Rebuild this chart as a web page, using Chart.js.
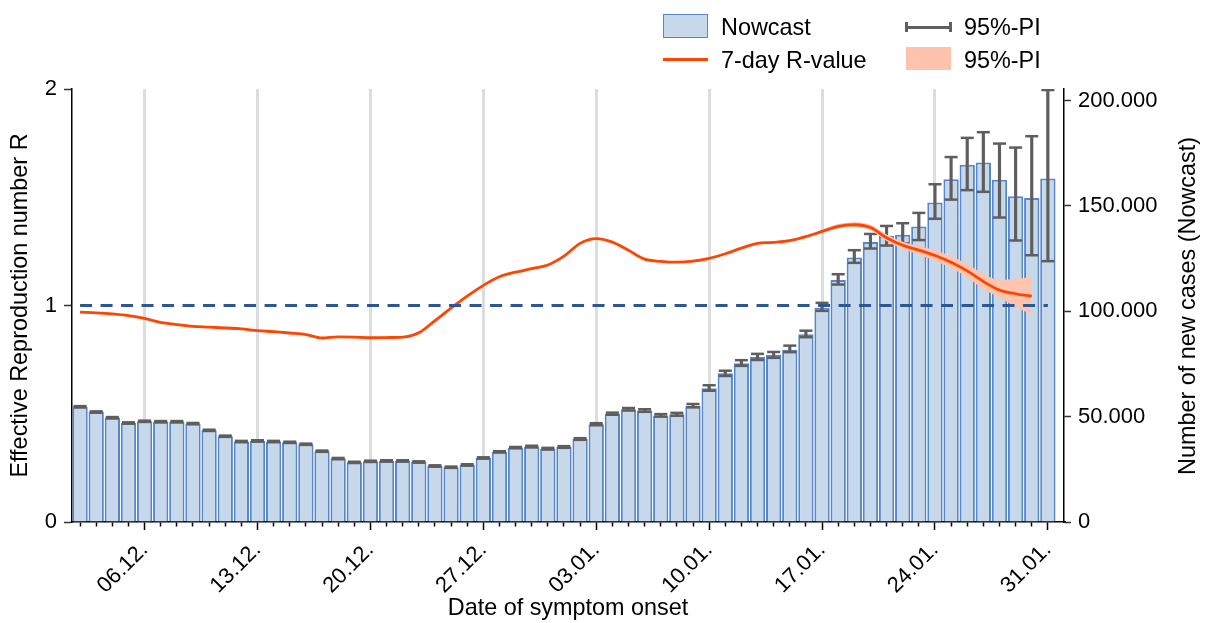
<!DOCTYPE html>
<html>
<head>
<meta charset="utf-8">
<script src="https://cdn.jsdelivr.net/npm/chart.js@4.4.1/dist/chart.umd.min.js"></script>
<style>
  body { margin: 0; background: #fff; }
  #wrap { position: relative; width: 1210px; height: 623px; font-family: "Liberation Sans", Arial, sans-serif; color: #000; }
  .lg { position: absolute; font-size: 23.4px; line-height: 26px; white-space: nowrap; }
  .sw { position: absolute; box-sizing: border-box; }
  #ytitle2 { position: absolute; left: 1187px; top: 305.5px; font-size: 23.4px; line-height: 26px; white-space: nowrap;
             transform: translate(-50%, -50%) rotate(-90deg); }
</style>
</head>
<body>
<div id="wrap">
  <canvas id="chart" width="1210" height="623"></canvas>

  <!-- legend -->
  <div class="sw" style="left:663px;top:14px;width:45px;height:24px;background:#c6d8ea;border:1.5px solid #5787c9"></div>
  <div class="lg" style="left:721px;top:13.8px">Nowcast</div>
  <div class="sw" style="left:663px;top:57.7px;width:45px;height:3.3px;background:#ff4500"></div>
  <div class="lg" style="left:721px;top:46.5px">7-day R-value</div>
  <div class="sw" style="left:905px;top:25.8px;width:47px;height:3px;background:#5f5f5f"></div>
  <div class="sw" style="left:905px;top:22.3px;width:3px;height:10px;background:#5f5f5f"></div>
  <div class="sw" style="left:949px;top:22.3px;width:3px;height:10px;background:#5f5f5f"></div>
  <div class="lg" style="left:964px;top:13.8px">95%-PI</div>
  <div class="sw" style="left:906px;top:47px;width:45px;height:23.3px;background:#ffc3ad"></div>
  <div class="lg" style="left:964px;top:46.5px">95%-PI</div>

  <div id="ytitle2">Number of new cases (Nowcast)</div>
</div>

<script>
// dates of symptom onset
const days = [
  '02.12.','03.12.','04.12.','05.12.','06.12.','07.12.','08.12.','09.12.','10.12.','11.12.',
  '12.12.','13.12.','14.12.','15.12.','16.12.','17.12.','18.12.','19.12.','20.12.','21.12.',
  '22.12.','23.12.','24.12.','25.12.','26.12.','27.12.','28.12.','29.12.','30.12.','31.12.',
  '01.01.','02.01.','03.01.','04.01.','05.01.','06.01.','07.01.','08.01.','09.01.','10.01.',
  '11.01.','12.01.','13.01.','14.01.','15.01.','16.01.','17.01.','18.01.','19.01.','20.01.',
  '21.01.','22.01.','23.01.','24.01.','25.01.','26.01.','27.01.','28.01.','29.01.','30.01.',
  '31.01.'
];
const tickLabels = ['06.12.','13.12.','20.12.','27.12.','03.01.','10.01.','17.01.','24.01.','31.01.'];
const caseTicks = [0, 50000, 100000, 150000, 200000];

// nowcast of new cases + 95% PI
const nowcast = [
  54700, 52200, 49500, 47000, 47800, 47600, 47600, 46700, 43500, 40700,
  38200, 38500, 38200, 37800, 36900, 33600, 30100, 28300, 28800, 29000,
  29000, 28500, 26600, 26000, 27100, 30400, 33300, 35300, 35800, 34800,
  35600, 39400, 46400, 51400, 53500, 52900, 50600, 51100, 55200, 63500,
  70600, 75400, 78300, 79200, 81800, 89100, 101700, 114900, 125500, 132900,
  135800, 136300, 140200, 151600, 162700, 169600, 170600, 162400, 154600, 153800,
  163000
];
const nowcastLo = [
  54400, 51900, 49200, 46700, 47500, 47300, 47300, 46400, 43200, 40400,
  37900, 38200, 37900, 37500, 36600, 33300, 29800, 28000, 28500, 28700,
  28700, 28200, 26300, 25700, 26800, 30100, 33000, 35000, 35400, 34400,
  35200, 39000, 45900, 50900, 52900, 52300, 50000, 50400, 54400, 62300,
  69300, 74100, 76900, 77900, 80600, 87700, 100200, 112700, 123000, 129800,
  131200, 132200, 133800, 143900, 153000, 157500, 156700, 144500, 133600, 126600,
  123800
];
const nowcastHi = [
  55000, 52500, 49800, 47300, 48100, 47900, 47900, 47000, 43800, 41000,
  38500, 38800, 38500, 38100, 37200, 33900, 30400, 28600, 29100, 29300,
  29300, 28800, 26900, 26300, 27400, 30700, 33600, 35600, 36200, 35200,
  36000, 39800, 46900, 51900, 54100, 53500, 51200, 51800, 56000, 64900,
  71800, 76800, 79800, 80700, 83700, 90800, 104000, 117600, 129000, 136700,
  140500, 141800, 146700, 160300, 173200, 182300, 185000, 179600, 177700, 183100,
  205000
];

// 7-day R value + 95% PI
const rValue = [
  0.969, 0.966, 0.961, 0.953, 0.940, 0.922, 0.912, 0.904, 0.900, 0.896,
  0.892, 0.884, 0.879, 0.873, 0.866, 0.850, 0.855, 0.854, 0.851, 0.852,
  0.854, 0.874, 0.930, 0.988, 1.043, 1.093, 1.133, 1.154, 1.170, 1.187,
  1.228, 1.287, 1.309, 1.293, 1.255, 1.214, 1.204, 1.200, 1.205, 1.218,
  1.239, 1.265, 1.287, 1.292, 1.300, 1.318, 1.342, 1.366, 1.373, 1.360,
  1.313, 1.278, 1.256, 1.231, 1.200, 1.160, 1.111, 1.071, 1.054, 1.043
];
const rLo = [
  0.965, 0.962, 0.957, 0.949, 0.936, 0.918, 0.908, 0.900, 0.896, 0.892,
  0.888, 0.880, 0.875, 0.869, 0.862, 0.846, 0.851, 0.850, 0.847, 0.848,
  0.850, 0.870, 0.926, 0.984, 1.039, 1.089, 1.129, 1.150, 1.166, 1.183,
  1.224, 1.283, 1.305, 1.289, 1.251, 1.210, 1.200, 1.196, 1.201, 1.214,
  1.235, 1.261, 1.283, 1.288, 1.296, 1.312, 1.334, 1.356, 1.361, 1.347,
  1.298, 1.261, 1.236, 1.207, 1.173, 1.130, 1.075, 1.037, 0.994, 0.958
];
const rHi = [
  0.973, 0.970, 0.965, 0.957, 0.944, 0.926, 0.916, 0.908, 0.904, 0.900,
  0.896, 0.888, 0.883, 0.877, 0.870, 0.854, 0.859, 0.858, 0.855, 0.856,
  0.858, 0.878, 0.934, 0.992, 1.047, 1.097, 1.137, 1.158, 1.174, 1.191,
  1.232, 1.291, 1.313, 1.297, 1.259, 1.218, 1.208, 1.204, 1.209, 1.222,
  1.243, 1.269, 1.291, 1.296, 1.304, 1.324, 1.350, 1.376, 1.385, 1.373,
  1.328, 1.295, 1.276, 1.255, 1.227, 1.190, 1.147, 1.118, 1.124, 1.131
];
const rThreshold = 1;

Chart.defaults.font.family = '"Liberation Sans", Arial, sans-serif';
Chart.defaults.color = '#000';

const pts = arr => arr.map((v, i) => ({ x: i, y: v }));
const isMajor = i => tickLabels.includes(days[i]);
const fmtThousands = v => String(v).replace(/\B(?=(\d{3})+(?!\d))/g, '.');

const errGray = '#5e5e5e';

const ctx = document.getElementById('chart').getContext('2d');
const chart = new Chart(ctx, {
  type: 'bar',
  data: {
    datasets: [
      {
        type: 'bar', label: 'Nowcast', data: pts(nowcast), yAxisID: 'yN',
        backgroundColor: '#c6d8ea', borderColor: '#5787c9', borderWidth: 2,
        grouped: false, categoryPercentage: 1, barPercentage: 0.95, order: 7
      },
      {
        type: 'bar', label: '95%-PI', yAxisID: 'yN',
        data: nowcast.map((v, i) => ({ x: i, y: [nowcastLo[i], nowcastHi[i]] })),
        backgroundColor: errGray, borderWidth: 0, barThickness: 2.5, grouped: false, order: 6
      },
      {
        type: 'line', label: 'PI low', data: pts(nowcastLo), yAxisID: 'yN', showLine: false,
        pointStyle: 'line', pointRadius: 6.5, pointHoverRadius: 6.5, pointBorderWidth: 2.5,
        pointBorderColor: errGray, order: 5
      },
      {
        type: 'line', label: 'PI high', data: pts(nowcastHi), yAxisID: 'yN', showLine: false,
        pointStyle: 'line', pointRadius: 6.5, pointHoverRadius: 6.5, pointBorderWidth: 2.5,
        pointBorderColor: errGray, order: 5
      },
      {
        type: 'line', label: 'R low', data: pts(rLo), yAxisID: 'y',
        borderColor: 'rgba(0,0,0,0)', borderWidth: 0, pointRadius: 0, fill: false,
        cubicInterpolationMode: 'monotone', order: 3
      },
      {
        type: 'line', label: '95%-PI', data: pts(rHi), yAxisID: 'y',
        borderColor: 'rgba(0,0,0,0)', borderWidth: 0, pointRadius: 0, fill: '-1',
        backgroundColor: '#ffc4ae', cubicInterpolationMode: 'monotone', order: 2
      },
      {
        type: 'line', label: '7-day R-value', data: pts(rValue), yAxisID: 'y',
        borderColor: '#ff4500', borderWidth: 2.8, pointRadius: 0,
        cubicInterpolationMode: 'monotone', order: 1
      },
      {
        type: 'line', label: 'R = 1', yAxisID: 'y',
        data: [{ x: 0, y: rThreshold }, { x: days.length - 1, y: rThreshold }],
        borderColor: '#2b5797', borderWidth: 3, borderDash: [12, 8.5], pointRadius: 0, order: 0
      }
    ]
  },
  options: {
    responsive: false,
    animation: false,
    layout: { padding: { top: 89, left: 0, right: 0, bottom: 0 } },
    plugins: { legend: { display: false }, tooltip: { enabled: false } },
    scales: {
      x: {
        type: 'linear', min: -0.5, max: days.length, offset: false,
        afterBuildTicks: s => { s.ticks = days.map((d, i) => ({ value: i })); },
        ticks: {
          autoSkip: false, minRotation: 45, maxRotation: 45, padding: 7,
          font: { size: 22 }, color: '#000',
          callback: v => isMajor(v) ? days[v] : ''
        },
        grid: {
          offset: false,
          color: c => isMajor(c.index) ? '#dddddd' : 'rgba(0,0,0,0)',
          lineWidth: 3,
          tickColor: '#000', tickWidth: 1.5, tickLength: 8,
          tickBorderDash: c => isMajor(c.index) ? [] : [4, 30]
        },
        border: { color: '#000', width: 1.5 },
        title: {
          display: true, text: 'Date of symptom onset', color: '#000',
          font: { size: 23.4 }, padding: { top: 0, bottom: 0 }
        },
        afterFit: s => { s.height = 101; }
      },
      y: {
        position: 'left', min: 0, max: 2,
        ticks: { stepSize: 1, font: { size: 22 }, color: '#000', padding: 7 },
        grid: { drawOnChartArea: false, tickLength: 8, tickColor: '#333', tickWidth: 1.5 },
        border: { color: '#000', width: 1.5 },
        title: {
          display: true, text: 'Effective Reproduction number R', color: '#000',
          font: { size: 23.4 }, padding: { top: 7, bottom: 0 }
        },
        afterFit: s => { s.width = 72; }
      },
      yN: {
        position: 'right', min: 0, max: 205500,
        afterBuildTicks: s => { s.ticks = caseTicks.map(v => ({ value: v })); },
        ticks: {
          font: { size: 22 }, color: '#000', padding: 7,
          callback: v => fmtThousands(v)
        },
        grid: { drawOnChartArea: false, tickLength: 7, tickColor: '#333', tickWidth: 1.5 },
        border: { color: '#000', width: 1.5 },
        afterFit: s => { s.width = 146; }
      }
    }
  }
});
</script>
</body>
</html>
